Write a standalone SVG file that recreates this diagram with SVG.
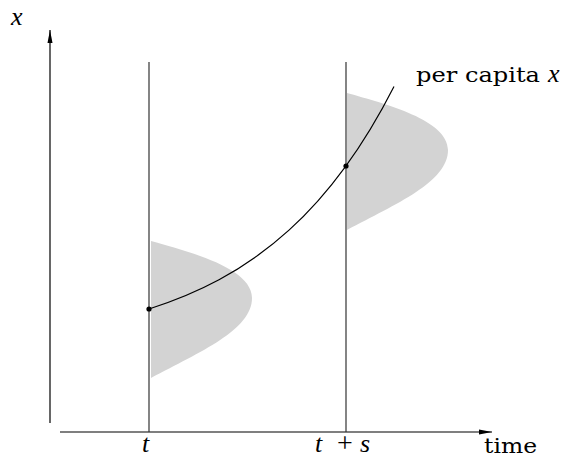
<svg xmlns="http://www.w3.org/2000/svg" width="568" height="456" viewBox="0 0 568 456">
<style>
.axis{stroke:#000;stroke-width:1.2;fill:none}
.vline{stroke:#333;stroke-width:1.2;fill:none}
.dens{fill:#d3d3d3;stroke:none}
.curve{stroke:#000;stroke-width:1.2;fill:none}
.lbl{font-family:"DejaVu Serif",serif;font-size:21px;fill:#000}
.math{font-family:"Liberation Serif","DejaVu Serif",serif;font-style:italic;font-size:26px;fill:#000}
.mathr{font-family:"Liberation Serif","DejaVu Serif",serif;font-size:28px;fill:#000}
</style>
<defs>
<marker id="ah" markerWidth="14" markerHeight="6" refX="13" refY="3" orient="auto" markerUnits="userSpaceOnUse">
<path d="M0,0.5 L13,3 L0,5.5 Z" fill="#000"/>
</marker>
<path id="density" d="M151,241 C190,252 252,268 252,298 C252,330 200,352 151,378 Z"/>
</defs>
<g id="axes">
<line class="axis" x1="50" y1="423" x2="50" y2="30" marker-end="url(#ah)"/>
<line class="axis" x1="60" y1="432" x2="492" y2="432" marker-end="url(#ah)"/>
</g>
<g id="density-t">
<use href="#density" class="dens"/>
</g>
<g id="density-ts">
<use href="#density" class="dens" transform="translate(196,-148)"/>
</g>
<g id="connectors">
<line class="vline" x1="149" y1="62" x2="149" y2="432"/>
<line class="vline" x1="346" y1="62" x2="346" y2="432"/>
<path class="curve" d="M149,309 C195.7,294 242.3,272.3 289,230.1 C324,198.4 359,155.3 394,86.4"/>
</g>
<g id="point-t"><circle cx="149" cy="309" r="2.6" fill="#000"/></g>
<g id="point-ts"><circle cx="346" cy="166" r="2.6" fill="#000"/></g>
<g id="labels">
<text class="math" x="11" y="25">x</text>
<text class="math" x="142" y="452">t</text>
<text class="math" x="315" y="452">t</text>
<text class="mathr" x="345" y="452" text-anchor="middle">+</text>
<text class="math" x="360" y="452">s</text>
<text class="lbl" x="484" y="453" textLength="53" lengthAdjust="spacingAndGlyphs">time</text>
<text class="lbl" x="416" y="82" textLength="124" lengthAdjust="spacingAndGlyphs">per capita</text>
<text class="math" x="548" y="82">x</text>
</g>
</svg>
